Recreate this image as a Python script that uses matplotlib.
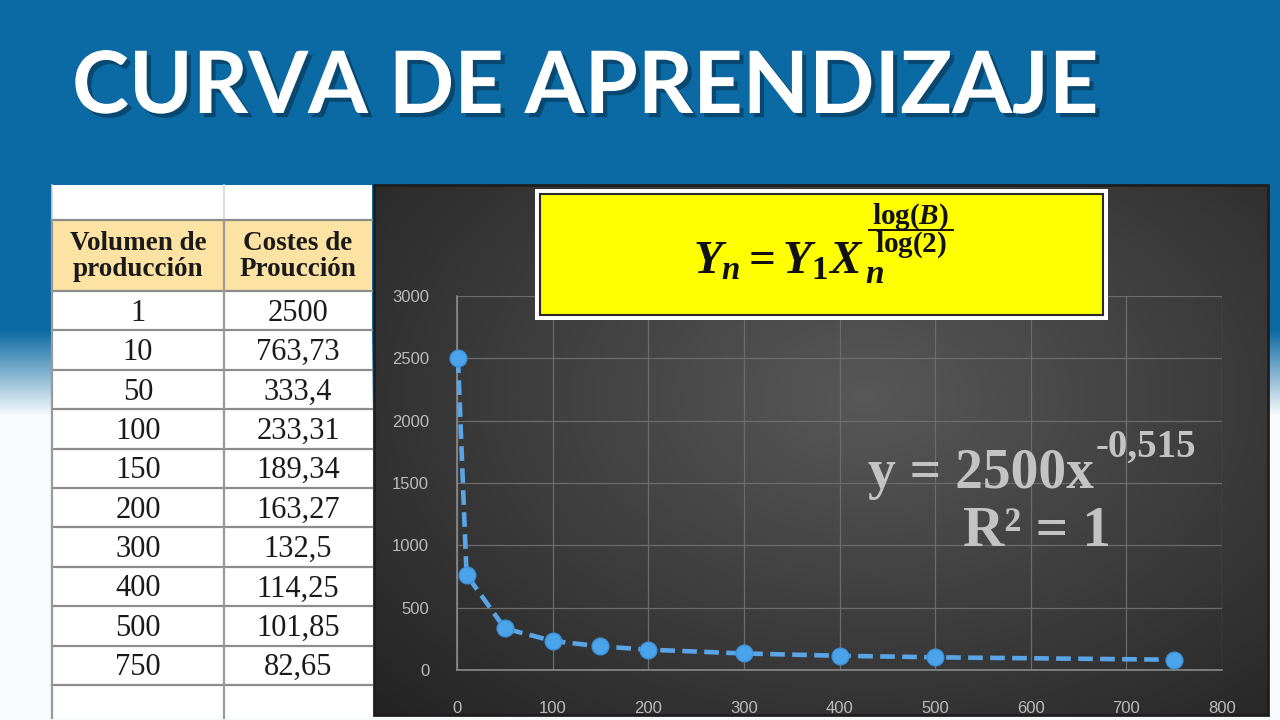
import numpy as np
import matplotlib.pyplot as plt
import matplotlib.patheffects as pe
from matplotlib.patches import Rectangle


volumen = [1, 10, 50, 100, 150, 200, 300, 400, 500, 750]
costes = [2500, 763.73, 333.4, 233.31, 189.34, 163.27, 132.5, 114.25, 101.85, 82.65]

titulo = "CURVA DE APRENDIZAJE"
cabecera = ["Volumen de\nproducción", "Costes de\nProucción"]
formula = r"$Y_n = Y_1X$"
subindice = r"$n$"
numerador = r"$\log(B)$"
denominador = r"$\log(2)$"
ecuacion = "y = 2500x"
exponente = "-0,515"
r2 = "R² = 1"
x_ticks = np.arange(0, 801, 100)
y_ticks = np.arange(0, 3001, 500)

plt.rcParams.update({
    "mathtext.fontset": "custom",
    "mathtext.rm": "Liberation Serif:bold",
    "mathtext.it": "Liberation Serif:italic:bold",
    "mathtext.bf": "Liberation Serif:bold",
})

W, H = 1280, 720
fig = plt.figure(figsize=(12.8, 7.2), dpi=100)

# ------------------------------------------------------------
# background (blue banner fading to white), pixel coordinates
# ------------------------------------------------------------
bg = fig.add_axes([0, 0, 1, 1], zorder=0)
yy = np.arange(H)[:, None, None]
blue = np.array([11, 106, 163]) / 255
white = np.array([248, 251, 253]) / 255
t = np.clip((yy - 330) / 85, 0, 1)
grad = np.broadcast_to(blue * (1 - t) + white * t, (H, W, 3))
bg.imshow(grad, extent=[0, W, H, 0], aspect="auto", interpolation="bilinear")

# dark chart panel with a soft radial light
px0, px1, py0, py1 = 374, 1268, 185, 715
gy, gx = np.mgrid[0:1:200j, 0:1:340j]
d = np.clip(np.sqrt(((gx - 0.55) / 0.75) ** 2 + ((gy - 0.4) / 0.85) ** 2), 0, 1)
c_in = np.array([88, 88, 88]) / 255
c_out = np.array([36, 36, 36]) / 255
panel = c_in * (1 - d[..., None]) + c_out * d[..., None]
bg.imshow(panel, extent=[px0, px1, py1, py0], aspect="auto",
          interpolation="bilinear", zorder=1)
bg.add_patch(Rectangle((px0, py0), px1 - px0, py1 - py0, fc="none",
                       ec="#1e1e1e", lw=2, zorder=2))
bg.set_xlim(0, W)
bg.set_ylim(H, 0)
bg.axis("off")

# ------------------------------------------------------------
# table
# ------------------------------------------------------------
tx0, tx1, tx2 = 52, 224, 372
ty_top, ty_head, ty_data, ty_bot = 185, 220, 291, 718
row_h = 39.4
n = len(volumen)

bg.add_patch(Rectangle((tx0, ty_top), tx2 - tx0, ty_bot - ty_top,
                       fc="white", ec="none", zorder=2))
bg.add_patch(Rectangle((tx0, ty_head), tx2 - tx0, ty_data - ty_head,
                       fc="#fde3a3", ec="none", zorder=2))
for y in [ty_head, ty_data] + [ty_data + row_h * (i + 1) for i in range(n)]:
    bg.plot([tx0, tx2], [y, y], color="#8c8c8c", lw=1.6, zorder=3)
for x in [tx0, tx1]:
    bg.plot([x, x], [ty_top, ty_head], color="#d4d4d4", lw=1.2, zorder=3)
    bg.plot([x, x], [ty_head, ty_bot], color="#9a9a9a", lw=1.6, zorder=3)

for xc, label in zip([138, 298], cabecera):
    bg.text(xc, (ty_head + ty_data) / 2 + 1, label, ha="center", va="center",
            fontsize=19.5, fontweight="bold", family="Liberation Serif",
            color="#1a1a1a", linespacing=1.1, zorder=4)

for i, (v, c) in enumerate(zip(volumen, costes)):
    yb = ty_data + row_h * (i + 0.5) + 10
    bg.text(138, yb, str(v), ha="center", va="baseline", fontsize=22,
            family="Liberation Serif", color="#1a1a1a", zorder=4)
    bg.text(298, yb, f"{c:g}".replace(".", ","), ha="center", va="baseline",
            fontsize=22, family="Liberation Serif", color="#1a1a1a", zorder=4)

# ------------------------------------------------------------
# chart
# ------------------------------------------------------------
ax = fig.add_axes([457 / W, (H - 670) / H, (1222 - 457) / W, (670 - 296) / H],
                  zorder=2)
ax.patch.set_alpha(0)
ax.plot(volumen, costes, ls=(0, (3.2, 1.6)), lw=3.3, color="#5aa5e6",
        marker="o", ms=12, mfc="#4ba3ea", mec="#3d93da", mew=1,
        clip_on=False, zorder=3)
ax.set_xlim(0, 800)
ax.set_ylim(0, 3000)
ax.set_xticks(x_ticks)
ax.set_yticks(y_ticks)
ax.grid(True, color="#6c6c6c", lw=0.9)
ax.set_axisbelow(True)
for s in ["top", "right"]:
    ax.spines[s].set_visible(False)
for s in ["left", "bottom"]:
    ax.spines[s].set_color("#8a8a8a")
    ax.spines[s].set_linewidth(1.2)
ax.tick_params(length=0, labelcolor="#bcbcbc", labelsize=12)
ax.tick_params(axis="y", pad=20)
ax.tick_params(axis="x", pad=22)
for lab in ax.get_xticklabels() + ax.get_yticklabels():
    lab.set_family("Liberation Sans")

# ------------------------------------------------------------
# overlay: title, formula box, fitted equation
# ------------------------------------------------------------
ov = fig.add_axes([0, 0, 1, 1], zorder=4)
ov.set_xlim(0, W)
ov.set_ylim(H, 0)
ov.axis("off")

ov.text(72, 113, titulo, ha="left", va="baseline", fontsize=62,
        fontweight="bold", family="Lato", color="white",
        path_effects=[pe.withSimplePatchShadow(offset=(3, -3),
                                               shadow_rgbFace="#06324f",
                                               alpha=0.6)])

ov.add_patch(Rectangle((535, 189), 573, 131, fc="white", ec="none"))
ov.add_patch(Rectangle((540, 194), 563, 121, fc="#ffff00", ec="#2a2a2a", lw=1.5))
main = ov.text(693, 274, formula, ha="left", va="baseline", fontsize=34,
               color="#111111")
x_end = main.get_window_extent(renderer=fig.canvas.get_renderer()).x1
ov.text(x_end + 1, 283, subindice, ha="left", va="baseline", fontsize=24,
        color="#111111")
frac_c = x_end + 47
ov.text(frac_c, 224, numerador, ha="center", va="baseline", fontsize=21,
        color="#111111")
ov.plot([frac_c - 42, frac_c + 42], [230, 230], color="#111111", lw=1.4)
ov.text(frac_c, 252, denominador, ha="center", va="baseline", fontsize=21,
        color="#111111")

eq_style = dict(family="Liberation Serif", fontweight="bold", color="#c3c3c3")
ov.text(1094, 488, ecuacion, ha="right", va="baseline", fontsize=40, **eq_style)
ov.text(1096, 457, exponente, ha="left", va="baseline", fontsize=28, **eq_style)
ov.text(1037, 546, r2, ha="center", va="baseline", fontsize=41, **eq_style)

fig.savefig("out.png", dpi=100)
